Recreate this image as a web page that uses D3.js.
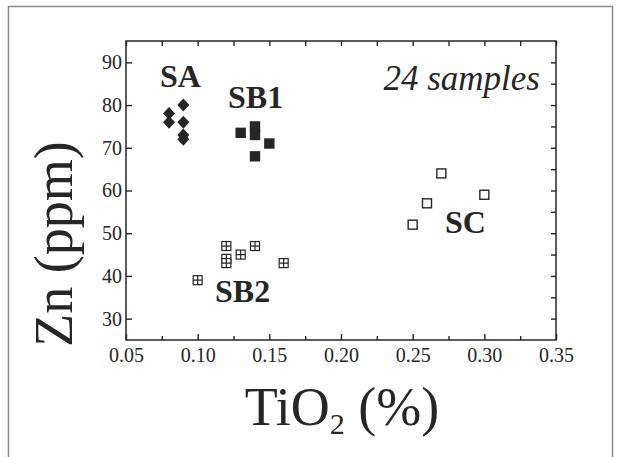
<!DOCTYPE html>
<html><head><meta charset="utf-8">
<script src="https://cdn.jsdelivr.net/npm/d3@7"></script>
<style>body{margin:0;background:#fff}svg{display:block}</style>
</head><body><svg id="c" width="620" height="457"></svg>
<script>
const xTicks = [0.05,0.10,0.15,0.20,0.25,0.30,0.35];
const xMinor = [0.075,0.125,0.175,0.225,0.275,0.325];
const yTicks = [30,40,50,60,70,80,90];
const yMinor = [35,45,55,65,75,85];
const saX = [0.08,0.08,0.09,0.09,0.09,0.09];
const saY = [78,76,80,76,73,72];
const sb1X = [0.13,0.14,0.14,0.15,0.14];
const sb1Y = [73.5,75,73,71,68];
const sb2X = [0.10,0.12,0.12,0.12,0.13,0.14,0.16];
const sb2Y = [39,47,44,43,45,47,43];
const scX = [0.25,0.26,0.27,0.30];
const scY = [52,57,64,59];
const groupLabels = [
  {t:"SA", x:0.0737, y:84.2},
  {t:"SB1", x:0.1212, y:79.3},
  {t:"SB2", x:0.1121, y:33.9},
  {t:"SC", x:0.2726, y:50.0}
];

const FONT = '"Liberation Serif", "Times New Roman", serif';
const svg = d3.select("#c");
const ink = "#262626";
svg.append("rect").attr("x",8.5).attr("y",6.5).attr("width",604).attr("height",470)
  .attr("fill","none").attr("stroke","#8a8a8a").attr("stroke-width",1.5);

const L=126, R=556, T=41, B=340;
const x = d3.scaleLinear().domain([0.05,0.35]).range([L,R]);
const y = d3.scaleLinear().domain([25,95]).range([B,T]);

function style(g){ g.selectAll("path,line").attr("stroke",ink).attr("stroke-width",1.4);
  g.selectAll("text").attr("font-size",20).attr("fill",ink).style("font-family",FONT);
  g.select(".domain").remove(); }

svg.append("g").attr("transform",`translate(0,${B})`)
  .call(d3.axisBottom(x).tickValues(xTicks).tickFormat(d3.format(".2f")).tickSizeInner(-6).tickSizeOuter(0).tickPadding(8)).call(style);
svg.append("g").attr("transform",`translate(0,${B})`)
  .call(d3.axisBottom(x).tickValues(xMinor).tickFormat("").tickSizeInner(-4).tickSizeOuter(0)).call(style);
svg.append("g").attr("transform",`translate(0,${T})`)
  .call(d3.axisTop(x).tickValues(xTicks.concat(xMinor)).tickFormat("").tickSizeInner(-5).tickSizeOuter(0)).call(style);
svg.append("g").attr("transform",`translate(${L},0)`)
  .call(d3.axisLeft(y).tickValues(yTicks).tickFormat(d3.format("d")).tickSizeInner(-6).tickSizeOuter(0).tickPadding(4)).call(style);
svg.append("g").attr("transform",`translate(${R},0)`)
  .call(d3.axisRight(y).tickValues(yTicks.concat(yMinor)).tickFormat("").tickSizeInner(-5).tickSizeOuter(0)).call(style);

svg.append("rect").attr("x",L).attr("y",T).attr("width",R-L).attr("height",B-T)
  .attr("fill","none").attr("stroke",ink).attr("stroke-width",1.5);

svg.append("g").selectAll("path").data(saX.map((d,i)=>[d,saY[i]])).join("path")
  .attr("transform",d=>`translate(${x(d[0])},${y(d[1])})`)
  .attr("d","M0,-6.5L6,0L0,6.5L-6,0Z").attr("fill",ink);
svg.append("g").selectAll("rect").data(sb1X.map((d,i)=>[d,sb1Y[i]])).join("rect")
  .attr("x",d=>x(d[0])-5.2).attr("y",d=>y(d[1])-5.2).attr("width",10.4).attr("height",10.4).attr("fill",ink);
const sb2 = svg.append("g").selectAll("g").data(sb2X.map((d,i)=>[d,sb2Y[i]])).join("g")
  .attr("transform",d=>`translate(${x(d[0])},${y(d[1])})`);
sb2.append("rect").attr("x",-4.5).attr("y",-4.5).attr("width",9).attr("height",9).attr("fill","#fff").attr("stroke",ink).attr("stroke-width",1.2);
sb2.append("path").attr("d","M-4.5,0H4.5M0,-4.5V4.5").attr("stroke",ink).attr("stroke-width",1.2);
svg.append("g").selectAll("rect").data(scX.map((d,i)=>[d,scY[i]])).join("rect")
  .attr("x",d=>x(d[0])-4.5).attr("y",d=>y(d[1])-4.5).attr("width",9).attr("height",9)
  .attr("fill","#fff").attr("stroke",ink).attr("stroke-width",1.4);

svg.append("g").selectAll("text").data(groupLabels).join("text")
  .attr("x",d=>x(d.x)).attr("y",d=>y(d.y)).text(d=>d.t)
  .attr("font-size",32).attr("font-weight","bold").attr("fill",ink).style("font-family",FONT);

svg.append("text").attr("x",540).attr("y",90).attr("text-anchor","end")
  .attr("font-size",35).attr("font-style","italic").attr("fill",ink).style("font-family",FONT).text("24 samples");

const xt = svg.append("text").attr("x",342).attr("y",425).attr("text-anchor","middle").attr("font-size",54).attr("fill",ink).style("font-family",FONT);
xt.append("tspan").text("TiO");
xt.append("tspan").attr("font-size",30).attr("dy",9).text("2");
xt.append("tspan").attr("dy",-9).text(" (%)");

svg.append("text").attr("transform","translate(72,244) rotate(-90)").attr("text-anchor","middle")
  .attr("font-size",54).attr("fill",ink).style("font-family",FONT).text("Zn (ppm)");
</script></body></html>
